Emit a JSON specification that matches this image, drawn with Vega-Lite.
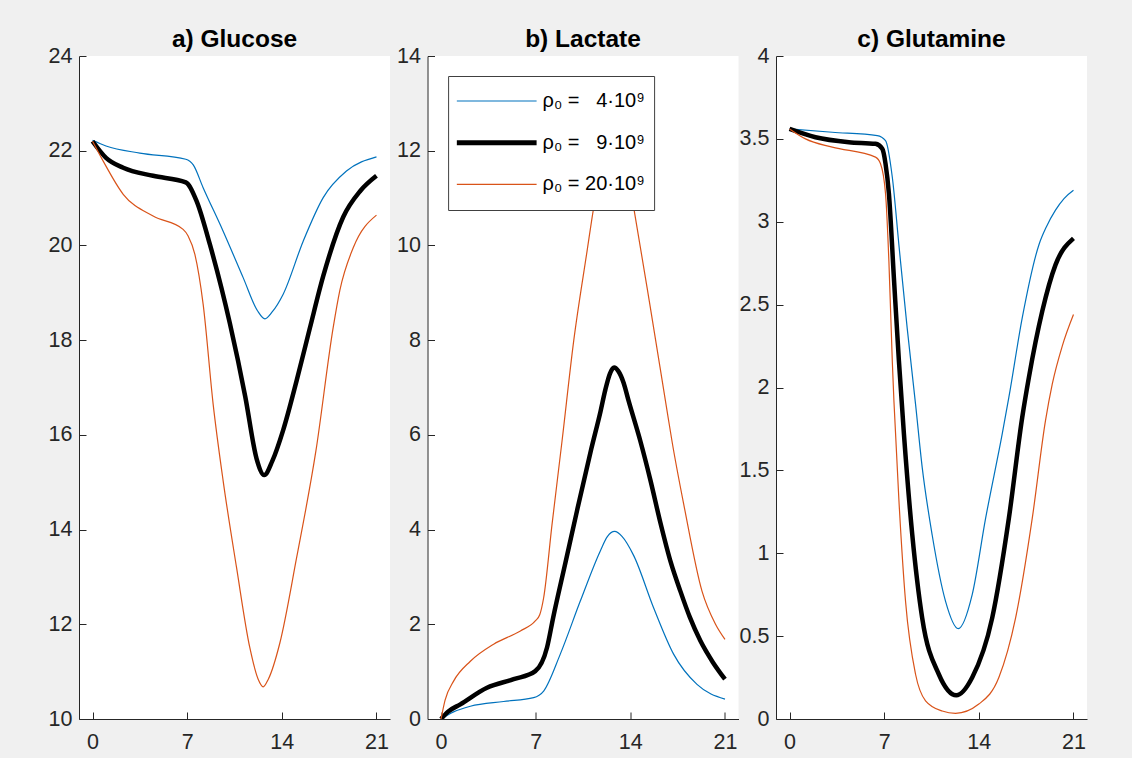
{
  "$schema": "https://vega.github.io/schema/vega-lite/v6.json",
  "padding": {"left": 48, "top": 26, "right": 45, "bottom": 6.5},
  "background": "#f0f0f0",
  "config": {
    "font": "Liberation Sans",
    "view": {"fill": "white", "stroke": null},
    "axis": {"grid": false, "domainColor": "#262626", "tickColor": "#262626", "labelColor": "#262626", "labelFontSize": 21.5, "labelFont": "Liberation Sans", "tickSize": -7, "domainWidth": 1, "tickWidth": 1},
    "axisX": {"labelPadding": 19},
    "axisY": {"labelPadding": 14},
    "title": {"fontSize": 24.5, "fontWeight": "bold", "color": "black", "font": "Liberation Sans", "anchor": "middle", "frame": "group", "offset": -7}
  },
  "data": {"values": [
    {"p":"a","rho":"4","t":0,"v":22.22},{"p":"a","rho":"4","t":1,"v":22.1},{"p":"a","rho":"4","t":3.5,"v":21.95},{"p":"a","rho":"4","t":6.9,"v":21.82},{"p":"a","rho":"4","t":7.45,"v":21.7},{"p":"a","rho":"4","t":8.18,"v":21.22},{"p":"a","rho":"4","t":9.66,"v":20.3},{"p":"a","rho":"4","t":11.14,"v":19.32},{"p":"a","rho":"4","t":12.2,"v":18.62},{"p":"a","rho":"4","t":12.75,"v":18.45},{"p":"a","rho":"4","t":13.3,"v":18.6},{"p":"a","rho":"4","t":14.1,"v":18.97},{"p":"a","rho":"4","t":15.58,"v":20.09},{"p":"a","rho":"4","t":17.06,"v":21.01},{"p":"a","rho":"4","t":18.78,"v":21.57},{"p":"a","rho":"4","t":21,"v":21.87},
    {"p":"a","rho":"9","t":0,"v":22.2},{"p":"a","rho":"9","t":1,"v":21.85},{"p":"a","rho":"9","t":2.27,"v":21.64},{"p":"a","rho":"9","t":4.48,"v":21.47},{"p":"a","rho":"9","t":6.9,"v":21.33},{"p":"a","rho":"9","t":7.69,"v":20.94},{"p":"a","rho":"9","t":8.68,"v":20.02},{"p":"a","rho":"9","t":10.16,"v":18.35},{"p":"a","rho":"9","t":11.3,"v":16.8},{"p":"a","rho":"9","t":12.13,"v":15.5},{"p":"a","rho":"9","t":12.7,"v":15.15},{"p":"a","rho":"9","t":13.3,"v":15.45},{"p":"a","rho":"9","t":14.1,"v":16.1},{"p":"a","rho":"9","t":15.1,"v":17.15},{"p":"a","rho":"9","t":16.07,"v":18.25},{"p":"a","rho":"9","t":17.06,"v":19.35},{"p":"a","rho":"9","t":18.54,"v":20.6},{"p":"a","rho":"9","t":19.8,"v":21.15},{"p":"a","rho":"9","t":21,"v":21.47},
    {"p":"a","rho":"20","t":0,"v":22.2},{"p":"a","rho":"20","t":0.79,"v":21.78},{"p":"a","rho":"20","t":2.27,"v":21.08},{"p":"a","rho":"20","t":4.48,"v":20.62},{"p":"a","rho":"20","t":6.7,"v":20.34},{"p":"a","rho":"20","t":7.07,"v":20.2},{"p":"a","rho":"20","t":7.57,"v":19.81},{"p":"a","rho":"20","t":8.18,"v":18.76},{"p":"a","rho":"20","t":8.92,"v":16.65},{"p":"a","rho":"20","t":9.66,"v":15.03},{"p":"a","rho":"20","t":10.65,"v":13.2},{"p":"a","rho":"20","t":11.63,"v":11.51},{"p":"a","rho":"20","t":12.25,"v":10.84},{"p":"a","rho":"20","t":12.62,"v":10.68},{"p":"a","rho":"20","t":13.0,"v":10.84},{"p":"a","rho":"20","t":13.85,"v":11.6},{"p":"a","rho":"20","t":15.09,"v":13.4},{"p":"a","rho":"20","t":16.52,"v":15.66},{"p":"a","rho":"20","t":17.8,"v":18.27},{"p":"a","rho":"20","t":18.29,"v":19.05},{"p":"a","rho":"20","t":19.28,"v":19.95},{"p":"a","rho":"20","t":21,"v":20.64},
    {"p":"b","rho":"4","t":0,"v":0},{"p":"b","rho":"4","t":0.93,"v":0.15},{"p":"b","rho":"4","t":2.17,"v":0.27},{"p":"b","rho":"4","t":4.63,"v":0.37},{"p":"b","rho":"4","t":6.85,"v":0.45},{"p":"b","rho":"4","t":7.59,"v":0.59},{"p":"b","rho":"4","t":8.82,"v":1.37},{"p":"b","rho":"4","t":10.3,"v":2.49},{"p":"b","rho":"4","t":11.78,"v":3.55},{"p":"b","rho":"4","t":12.3,"v":3.85},{"p":"b","rho":"4","t":12.84,"v":3.96},{"p":"b","rho":"4","t":13.4,"v":3.85},{"p":"b","rho":"4","t":14.25,"v":3.45},{"p":"b","rho":"4","t":15.72,"v":2.35},{"p":"b","rho":"4","t":17.2,"v":1.37},{"p":"b","rho":"4","t":18.93,"v":0.73},{"p":"b","rho":"4","t":21,"v":0.42},
    {"p":"b","rho":"9","t":0,"v":0},{"p":"b","rho":"9","t":0.5,"v":0.15},{"p":"b","rho":"9","t":1.43,"v":0.31},{"p":"b","rho":"9","t":3.4,"v":0.66},{"p":"b","rho":"9","t":5.37,"v":0.84},{"p":"b","rho":"9","t":6.97,"v":1.01},{"p":"b","rho":"9","t":7.84,"v":1.51},{"p":"b","rho":"9","t":8.3,"v":2.15},{"p":"b","rho":"9","t":9.2,"v":3.3},{"p":"b","rho":"9","t":10.06,"v":4.4},{"p":"b","rho":"9","t":11.11,"v":5.7},{"p":"b","rho":"9","t":11.8,"v":6.5},{"p":"b","rho":"9","t":12.15,"v":6.95},{"p":"b","rho":"9","t":12.5,"v":7.3},{"p":"b","rho":"9","t":12.8,"v":7.42},{"p":"b","rho":"9","t":13.1,"v":7.35},{"p":"b","rho":"9","t":13.5,"v":7.1},{"p":"b","rho":"9","t":13.88,"v":6.71},{"p":"b","rho":"9","t":14.74,"v":5.87},{"p":"b","rho":"9","t":15.48,"v":5.05},{"p":"b","rho":"9","t":16.22,"v":4.15},{"p":"b","rho":"9","t":17.0,"v":3.3},{"p":"b","rho":"9","t":17.7,"v":2.7},{"p":"b","rho":"9","t":18.4,"v":2.15},{"p":"b","rho":"9","t":19.18,"v":1.65},{"p":"b","rho":"9","t":20.1,"v":1.2},{"p":"b","rho":"9","t":21,"v":0.84},
    {"p":"b","rho":"20","t":0,"v":0},{"p":"b","rho":"20","t":0.3,"v":0.4},{"p":"b","rho":"20","t":0.93,"v":0.8},{"p":"b","rho":"20","t":2.17,"v":1.22},{"p":"b","rho":"20","t":3.89,"v":1.58},{"p":"b","rho":"20","t":5.87,"v":1.86},{"p":"b","rho":"20","t":6.97,"v":2.07},{"p":"b","rho":"20","t":7.3,"v":2.2},{"p":"b","rho":"20","t":7.59,"v":2.56},{"p":"b","rho":"20","t":8.21,"v":4.11},{"p":"b","rho":"20","t":8.95,"v":5.87},{"p":"b","rho":"20","t":9.81,"v":7.98},{"p":"b","rho":"20","t":10.8,"v":9.88},{"p":"b","rho":"20","t":11.29,"v":10.8},{"p":"b","rho":"20","t":12.0,"v":11.85},{"p":"b","rho":"20","t":12.8,"v":12.35},{"p":"b","rho":"20","t":13.6,"v":11.85},{"p":"b","rho":"20","t":14.25,"v":10.8},{"p":"b","rho":"20","t":15.4,"v":8.83},{"p":"b","rho":"20","t":16.8,"v":6.36},{"p":"b","rho":"20","t":17.08,"v":5.87},{"p":"b","rho":"20","t":18.0,"v":4.46},{"p":"b","rho":"20","t":19.3,"v":2.7},{"p":"b","rho":"20","t":20.3,"v":2.0},{"p":"b","rho":"20","t":21,"v":1.68},
    {"p":"c","rho":"4","t":0,"v":3.56},{"p":"c","rho":"4","t":3.16,"v":3.54},{"p":"c","rho":"4","t":6.49,"v":3.52},{"p":"c","rho":"4","t":7.1,"v":3.49},{"p":"c","rho":"4","t":7.6,"v":3.27},{"p":"c","rho":"4","t":8.09,"v":2.86},{"p":"c","rho":"4","t":8.7,"v":2.36},{"p":"c","rho":"4","t":9.32,"v":1.9},{"p":"c","rho":"4","t":9.81,"v":1.52},{"p":"c","rho":"4","t":10.55,"v":1.11},{"p":"c","rho":"4","t":11.54,"v":0.71},{"p":"c","rho":"4","t":12.48,"v":0.545},{"p":"c","rho":"4","t":13.51,"v":0.75},{"p":"c","rho":"4","t":14.5,"v":1.21},{"p":"c","rho":"4","t":15.73,"v":1.72},{"p":"c","rho":"4","t":16.22,"v":1.94},{"p":"c","rho":"4","t":17.21,"v":2.42},{"p":"c","rho":"4","t":18.44,"v":2.86},{"p":"c","rho":"4","t":19.0,"v":2.97},{"p":"c","rho":"4","t":19.67,"v":3.07},{"p":"c","rho":"4","t":20.3,"v":3.14},{"p":"c","rho":"4","t":21,"v":3.19},
    {"p":"c","rho":"9","t":0,"v":3.56},{"p":"c","rho":"9","t":1.92,"v":3.51},{"p":"c","rho":"9","t":4.39,"v":3.48},{"p":"c","rho":"9","t":6.36,"v":3.47},{"p":"c","rho":"9","t":6.86,"v":3.44},{"p":"c","rho":"9","t":7.1,"v":3.35},{"p":"c","rho":"9","t":7.35,"v":3.17},{"p":"c","rho":"9","t":7.72,"v":2.66},{"p":"c","rho":"9","t":8.09,"v":2.16},{"p":"c","rho":"9","t":8.46,"v":1.72},{"p":"c","rho":"9","t":9.08,"v":1.11},{"p":"c","rho":"9","t":9.81,"v":0.61},{"p":"c","rho":"9","t":11.04,"v":0.27},{"p":"c","rho":"9","t":12.33,"v":0.143},{"p":"c","rho":"9","t":13.51,"v":0.25},{"p":"c","rho":"9","t":14.99,"v":0.61},{"p":"c","rho":"9","t":16.22,"v":1.21},{"p":"c","rho":"9","t":17.21,"v":1.82},{"p":"c","rho":"9","t":17.7,"v":2.06},{"p":"c","rho":"9","t":18.69,"v":2.46},{"p":"c","rho":"9","t":19.67,"v":2.74},{"p":"c","rho":"9","t":21,"v":2.9},
    {"p":"c","rho":"20","t":0,"v":3.56},{"p":"c","rho":"20","t":1.18,"v":3.5},{"p":"c","rho":"20","t":3.16,"v":3.45},{"p":"c","rho":"20","t":6.36,"v":3.39},{"p":"c","rho":"20","t":6.73,"v":3.35},{"p":"c","rho":"20","t":7.1,"v":3.17},{"p":"c","rho":"20","t":7.35,"v":2.76},{"p":"c","rho":"20","t":7.6,"v":2.16},{"p":"c","rho":"20","t":7.72,"v":1.92},{"p":"c","rho":"20","t":8.09,"v":1.32},{"p":"c","rho":"20","t":8.58,"v":0.71},{"p":"c","rho":"20","t":9.32,"v":0.27},{"p":"c","rho":"20","t":10.06,"v":0.11},{"p":"c","rho":"20","t":11.29,"v":0.048},{"p":"c","rho":"20","t":12.28,"v":0.034},{"p":"c","rho":"20","t":14.0,"v":0.09},{"p":"c","rho":"20","t":15.48,"v":0.25},{"p":"c","rho":"20","t":16.72,"v":0.61},{"p":"c","rho":"20","t":17.95,"v":1.21},{"p":"c","rho":"20","t":18.93,"v":1.8},{"p":"c","rho":"20","t":19.43,"v":2.02},{"p":"c","rho":"20","t":20.17,"v":2.25},{"p":"c","rho":"20","t":21,"v":2.44}
  ]},
  "spacing": 37.5,
  "bounds": "flush",
  "resolve": {"scale": {"color": "independent"}, "legend": {"color": "independent"}},
  "hconcat": [
    {
      "width": 311, "height": 663,
      "title": {"text": "a) Glucose"},
      "transform": [{"filter": "datum.p == 'a'"}],
      "mark": {"type": "line", "interpolate": "monotone", "clip": true},
      "encoding": {
        "x": {"field": "t", "type": "quantitative", "scale": {"domain": [-1, 22], "nice": false, "zero": false}, "axis": {"values": [0, 7, 14, 21], "title": null}},
        "y": {"field": "v", "type": "quantitative", "scale": {"domain": [10, 24], "nice": false, "zero": false}, "axis": {"values": [10, 12, 14, 16, 18, 20, 22, 24], "title": null}},
        "color": {"field": "rho", "type": "nominal", "scale": {"domain": ["4", "9", "20"], "range": ["#0072BD", "#000000", "#D95319"]}, "legend": null},
        "strokeWidth": {"condition": {"test": "datum.rho == '9'", "value": 4.5}, "value": 1.2}
      }
    },
    {
      "width": 311, "height": 663,
      "title": {"text": "b) Lactate"},
      "transform": [{"filter": "datum.p == 'b'"}],
      "mark": {"type": "line", "interpolate": "monotone", "clip": true},
      "encoding": {
        "x": {"field": "t", "type": "quantitative", "scale": {"domain": [-1, 22], "nice": false, "zero": false}, "axis": {"values": [0, 7, 14, 21], "title": null}},
        "y": {"field": "v", "type": "quantitative", "scale": {"domain": [0, 14], "nice": false}, "axis": {"values": [0, 2, 4, 6, 8, 10, 12, 14], "title": null}},
        "color": {"field": "rho", "type": "nominal", "scale": {"domain": ["4", "9", "20"], "range": ["#0072BD", "#000000", "#D95319"]},
          "legend": {"orient": "none", "legendX": 20.6, "legendY": 20, "title": null, "symbolType": "stroke", "symbolSize": 6400, "symbolStrokeWidth": 1.2, "columns": 1, "clipHeight": 33, "rowPadding": 8.7, "labelFontSize": 20, "labelFont": "Liberation Sans", "labelColor": "black", "fillColor": "white", "strokeColor": "#404040", "padding": 8.5, "symbolOffset": 30, "labelOffset": 36, "labelLimit": 300,
            "labelExpr": "datum.value == '4' ? 'ρ₀ = \u00a0\u00a04·10⁹' : datum.value == '9' ? 'ρ₀ = \u00a0\u00a09·10⁹' : 'ρ₀ = 20·10⁹'",
            "encode": {"symbols": {"update": {"size": {"value": 6400}, "strokeWidth": {"signal": "datum.value == '9' ? 5 : 1.2"}}}}}},
        "strokeWidth": {"condition": {"test": "datum.rho == '9'", "value": 4.5}, "value": 1.2}
      }
    },
    {
      "width": 311, "height": 663,
      "title": {"text": "c) Glutamine"},
      "transform": [{"filter": "datum.p == 'c'"}],
      "mark": {"type": "line", "interpolate": "monotone", "clip": true},
      "encoding": {
        "x": {"field": "t", "type": "quantitative", "scale": {"domain": [-1, 22], "nice": false, "zero": false}, "axis": {"values": [0, 7, 14, 21], "title": null}},
        "y": {"field": "v", "type": "quantitative", "scale": {"domain": [0, 4], "nice": false}, "axis": {"values": [0, 0.5, 1, 1.5, 2, 2.5, 3, 3.5, 4], "format": ".1~f", "title": null}},
        "color": {"field": "rho", "type": "nominal", "scale": {"domain": ["4", "9", "20"], "range": ["#0072BD", "#000000", "#D95319"]}, "legend": null},
        "strokeWidth": {"condition": {"test": "datum.rho == '9'", "value": 4.5}, "value": 1.2}
      }
    }
  ]
}
